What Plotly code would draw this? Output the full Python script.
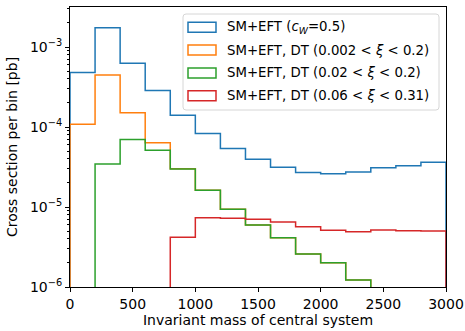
import plotly.graph_objects as go

# ---- data ----
bin_edges = [0, 200, 400, 600, 800, 1000, 1200, 1400, 1600, 1800, 2000,
             2200, 2400, 2600, 2800, 3000]
series_names = [
    "SM+EFT (<i>c</i><sub><i>W</i></sub>=0.5)",
    "SM+EFT, DT (0.002 < <i>ξ</i> < 0.2)",
    "SM+EFT, DT (0.02 < <i>ξ</i> < 0.2)",
    "SM+EFT, DT (0.06 < <i>ξ</i> < 0.31)",
]
sm_eft = [4.8e-4, 1.74e-3, 6.25e-4, 2.85e-4, 1.40e-4, 8.3e-5, 5.4e-5, 3.95e-5,
          3.13e-5, 2.69e-5, 2.61e-5, 2.74e-5, 3.10e-5, 3.28e-5, 3.62e-5]
dt_0002_02 = [1.08e-4, 4.47e-4, 1.51e-4, 6.37e-5, 3.0e-5, 1.62e-5, 9.4e-6, 5.96e-6,
              4.13e-6, 2.59e-6, 2.01e-6, 1.22e-6, 0, 0, 0]
dt_002_02 = [0, 3.45e-5, 7.0e-5, 5.12e-5, 2.99e-5, 1.62e-5, 9.4e-6, 5.96e-6,
             4.13e-6, 2.59e-6, 2.01e-6, 1.22e-6, 0, 0, 0]
dt_006_031 = [0, 0, 0, 0, 4.18e-6, 7.35e-6, 7.25e-6, 7.02e-6, 6.49e-6, 5.67e-6,
              5.11e-6, 4.91e-6, 5.16e-6, 5.05e-6, 5.01e-6]
colors = ["#1f77b4", "#ff7f0e", "#2ca02c", "#d62728"]
x_ticks = [0, 500, 1000, 1500, 2000, 2500, 3000]
y_major = [1e-6, 1e-5, 1e-4, 1e-3]
y_major_text = ["10<sup>−6</sup>", "10<sup>−5</sup>", "10<sup>−4</sup>", "10<sup>−3</sup>"]

FLOOR = 1e-9


def step_xy(edges, vals):
    v = [val if val > 0 else FLOOR for val in vals]
    xs = [edges[0]] + list(edges[:-1]) + [edges[-1], edges[-1]]
    ys = [FLOOR] + v + [v[-1], FLOOR]
    return xs, ys


fig = go.Figure()
for vals, c in zip([sm_eft, dt_0002_02, dt_002_02, dt_006_031], colors):
    xs, ys = step_xy(bin_edges, vals)
    fig.add_trace(go.Scatter(x=xs, y=ys, mode="lines", line=dict(color=c, width=1.5, shape="hv"),
                             showlegend=False, hoverinfo="skip"))

# plot area pixel geometry
W, H = 465, 331
L, R, T, B = 70, 446, 7, 287
pw, ph = R - L, B - T


def px(x):
    return (x - L) / pw


def py(y):
    return (B - y) / ph


shapes = []
annotations = []
# legend frame (rounded)
lx0, lx1, ly0, ly1, r = 183, 439, 14, 110, 3
path = (f"M {px(lx0 + r)} {py(ly0)} L {px(lx1 - r)} {py(ly0)} "
        f"Q {px(lx1)} {py(ly0)} {px(lx1)} {py(ly0 + r)} L {px(lx1)} {py(ly1 - r)} "
        f"Q {px(lx1)} {py(ly1)} {px(lx1 - r)} {py(ly1)} L {px(lx0 + r)} {py(ly1)} "
        f"Q {px(lx0)} {py(ly1)} {px(lx0)} {py(ly1 - r)} L {px(lx0)} {py(ly0 + r)} "
        f"Q {px(lx0)} {py(ly0)} {px(lx0 + r)} {py(ly0)} Z")
shapes.append(dict(type="path", xref="paper", yref="paper", path=path,
                   line=dict(color="#d6d6d6", width=1), fillcolor="rgba(255,255,255,0.8)", layer="above"))
for i, (name, c) in enumerate(zip(series_names, colors)):
    cy = 27.3 + i * 22.8
    shapes.append(dict(type="rect", xref="paper", yref="paper",
                       x0=px(188), x1=px(216), y0=py(cy - 5), y1=py(cy + 5),
                       line=dict(color=c, width=1.5), fillcolor="rgba(0,0,0,0)", layer="above"))
    annotations.append(dict(xref="paper", yref="paper", x=px(225), y=py(cy), text=name,
                            showarrow=False, xanchor="left", yanchor="middle",
                            font=dict(family="DejaVu Sans", size=13.3, color="black")))

fig.update_layout(
    width=W, height=H,
    margin=dict(l=L, r=W - R, t=T, b=H - B, pad=0),
    plot_bgcolor="white", paper_bgcolor="white",
    font=dict(family="DejaVu Sans", size=14, color="black"),
    shapes=shapes, annotations=annotations,
    xaxis=dict(range=[0, 3000], tickvals=x_ticks, ticks="outside", ticklen=4, tickwidth=1,
               tickcolor="black", showgrid=False, zeroline=False, showline=True, linecolor="black",
               linewidth=1, mirror=True, automargin=False, tickfont=dict(size=14),
               title=dict(text="Invariant mass of central system", standoff=3,
                          font=dict(size=14))),
    yaxis=dict(type="log", range=[-6, -2.5], tickvals=y_major, ticktext=y_major_text,
               ticks="outside", ticklen=4, tickwidth=1, tickcolor="black", showgrid=False,
               zeroline=False, showline=True, linecolor="black", linewidth=1, mirror=True,
               automargin=False, tickfont=dict(size=14),
               minor=dict(tickvals=[m * 10 ** e for e in range(-6, -2) for m in range(2, 10)],
                          ticks="outside", ticklen=2, tickcolor="black", tickwidth=0.8, showgrid=False),
               title=dict(text="Cross section per bin [pb]", standoff=9, font=dict(size=14))),
)

fig.write_html("out.html", config={"displayModeBar": False},
               post_script="document.body.style.margin='0';")
